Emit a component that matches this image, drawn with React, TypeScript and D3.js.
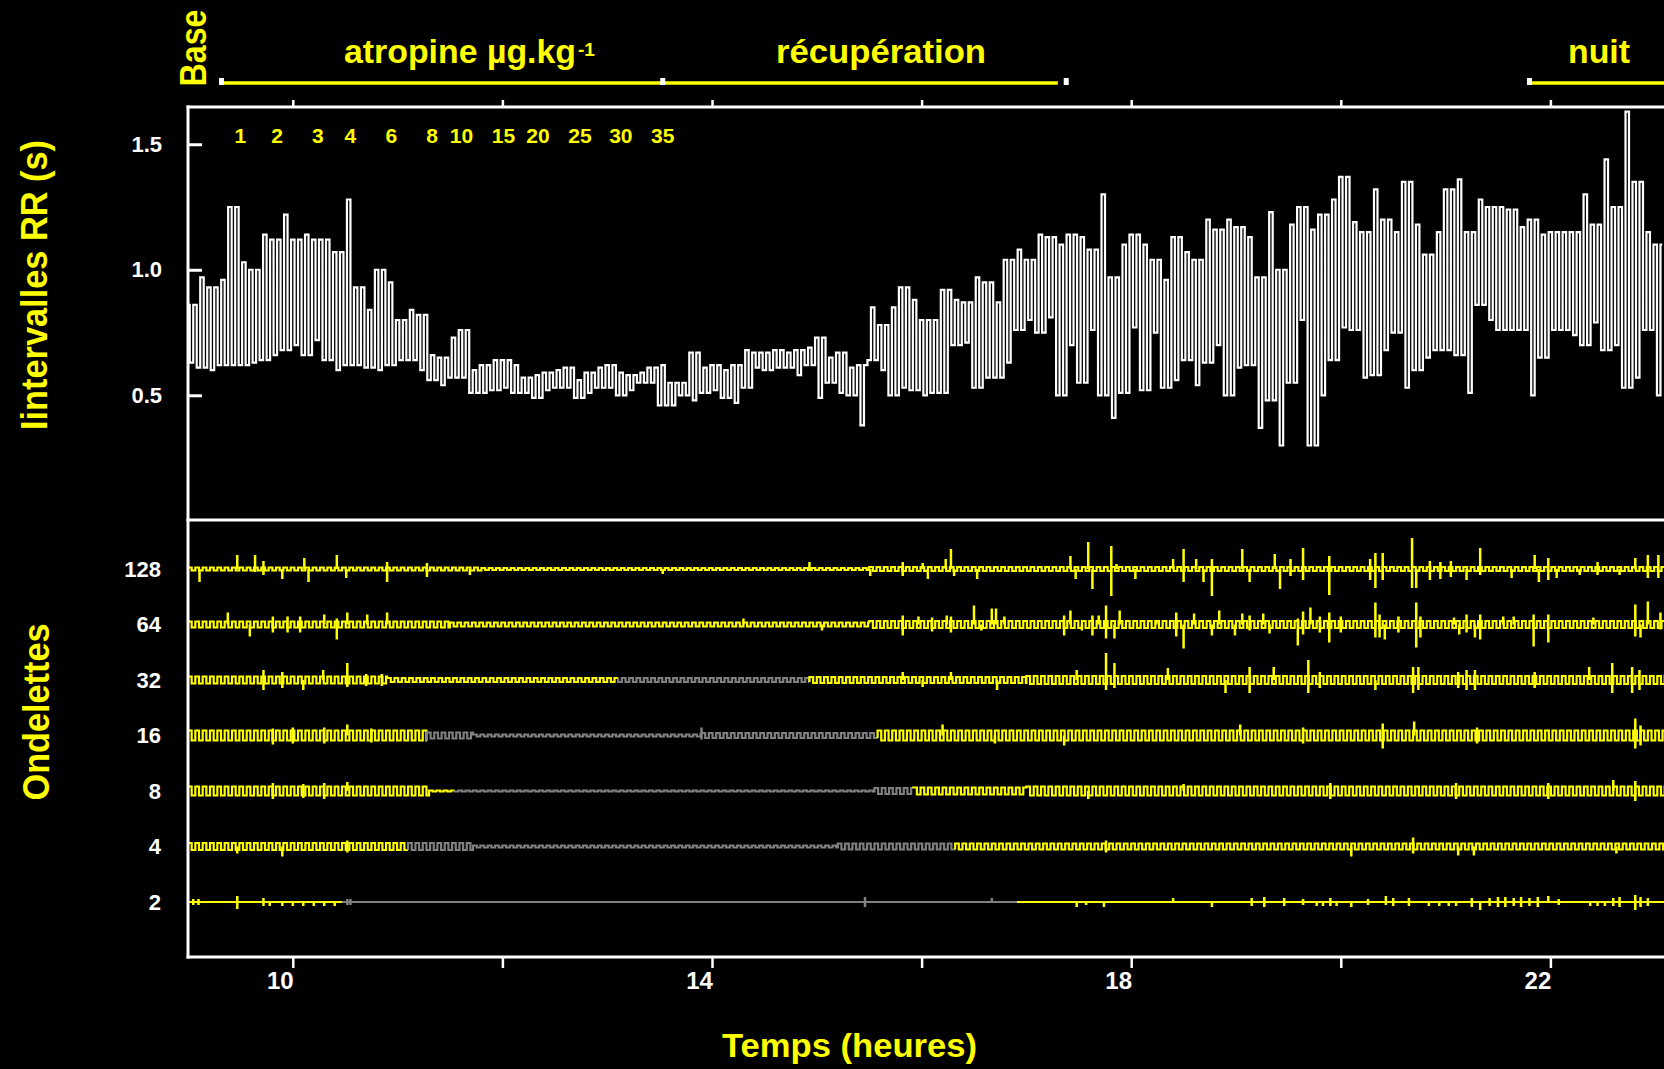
import * as React from "react";
import * as d3 from "d3";

const { useRef, useEffect } = React;

const W = 1664;
const H = 1069;
const YELLOW = "#ffff00";
const GREY = "#808080";
const FONT = "'Liberation Sans', Arial, Helvetica, sans-serif";

// time axis (hours)
const hourTicks = [10, 12, 14, 16, 18, 20, 22, 24];
const hourLabels = [10, 14, 18, 22];

// RR intervals (s): upper / lower envelope for each 0.1 h step from 9.0 h
const rrStart = 9.0;
const rrStep = 0.1;
const rrHigh = [
  0.86, 0.97, 0.93, 0.96, 1.25, 1.03, 1.0, 1.14, 1.12, 1.22,
  1.12, 1.14, 1.12, 1.12, 1.07, 1.28, 0.93, 0.84, 1.0, 0.95,
  0.8, 0.84, 0.82, 0.66, 0.65, 0.73, 0.76, 0.6, 0.62, 0.64,
  0.64, 0.62, 0.57, 0.58, 0.59, 0.6, 0.61, 0.56, 0.59, 0.61,
  0.62, 0.59, 0.58, 0.59, 0.61, 0.62, 0.55, 0.55, 0.67, 0.61,
  0.62, 0.6, 0.62, 0.68, 0.67, 0.67, 0.68, 0.67, 0.68, 0.69,
  0.73, 0.65, 0.67, 0.61, 0.62, 0.85, 0.78, 0.85, 0.93, 0.88,
  0.8, 0.8, 0.92, 0.88, 0.87, 0.97, 0.95, 0.87, 1.04, 1.08,
  1.04, 1.14, 1.13, 1.1, 1.14, 1.13, 1.08, 1.3, 0.97, 1.1,
  1.14, 1.1, 1.04, 0.96, 1.13, 1.07, 1.04, 1.2, 1.16, 1.2,
  1.17, 1.13, 0.97, 1.23, 1.0, 1.18, 1.25, 1.16, 1.22, 1.28,
  1.37, 1.19, 1.15, 1.32, 1.2, 1.15, 1.35, 1.18, 1.06, 1.15,
  1.32, 1.36, 1.15, 1.28, 1.25, 1.25, 1.24, 1.17, 1.2, 1.14,
  1.15, 1.15, 1.15, 1.3, 1.18, 1.44, 1.25, 1.63, 1.35, 1.15,
  1.1,
];
const rrLow = [
  0.63, 0.61, 0.6, 0.62, 0.62, 0.62, 0.63, 0.64, 0.66, 0.68,
  0.7, 0.66, 0.72, 0.64, 0.6, 0.62, 0.62, 0.61, 0.6, 0.62,
  0.64, 0.64, 0.6, 0.56, 0.54, 0.57, 0.57, 0.51, 0.51, 0.52,
  0.53, 0.51, 0.51, 0.49, 0.52, 0.53, 0.53, 0.49, 0.51, 0.53,
  0.53, 0.5, 0.52, 0.55, 0.55, 0.46, 0.46, 0.5, 0.48, 0.51,
  0.52, 0.49, 0.47, 0.53, 0.61, 0.6, 0.61, 0.61, 0.58, 0.62,
  0.49, 0.55, 0.51, 0.5, 0.38, 0.64, 0.6, 0.5, 0.53, 0.52,
  0.5, 0.51, 0.51, 0.7, 0.71, 0.53, 0.57, 0.57, 0.63, 0.76,
  0.8, 0.75, 0.81, 0.5, 0.7, 0.55, 0.76, 0.5, 0.41, 0.51,
  0.77, 0.52, 0.75, 0.53, 0.56, 0.64, 0.54, 0.63, 0.7, 0.5,
  0.61, 0.62, 0.37, 0.48, 0.3, 0.55, 0.8, 0.3, 0.5, 0.64,
  0.77, 0.76, 0.57, 0.58, 0.68, 0.75, 0.53, 0.6, 0.65, 0.68,
  0.68, 0.66, 0.51, 0.86, 0.8, 0.76, 0.76, 0.76, 0.5, 0.65,
  0.76, 0.76, 0.74, 0.7, 0.79, 0.68, 0.7, 0.53, 0.57, 0.76,
  0.5,
];
const rrTicks = [0.5, 1.0, 1.5];

// atropine doses (µg/kg) and the hour each was given
const doseLabels = ["1", "2", "3", "4", "6", "8", "10", "15", "20", "25", "30", "35"];
const doseTimes = [9.5, 9.85, 10.24, 10.55, 10.94, 11.33, 11.61, 12.01, 12.34, 12.74, 13.13, 13.53];

// protocol phases
const phaseNames = ["atropine µg.kg", "récupération", "nuit"];
const phaseFrom = [9.32, 13.53, 21.8];
const phaseTo = [13.53, 17.3, 24.5];
const phaseMarks = [9.32, 13.53, 17.38, 21.8];

// wavelet scales
const waveScales = ["128", "64", "32", "16", "8", "4", "2"];

// background activity [from h, to h, amplitude]
const fuzz128 = [[9.0, 11.8, 0.15], [11.8, 15.5, 0.1], [15.5, 24.5, 0.2]];
const fuzz64 = [[9.0, 11.5, 0.3], [11.5, 15.5, 0.2], [15.5, 24.5, 0.35]];
const fuzz32 = [[9.0, 10.9, 0.35], [10.9, 14.93, 0.2], [14.93, 17.0, 0.3], [17.0, 24.5, 0.4]];
const fuzz16 = [[9.0, 11.28, 0.5], [11.28, 11.72, 0.3], [11.72, 13.9, 0.1], [13.9, 15.58, 0.25], [15.58, 24.5, 0.5]];
const fuzz8 = [[9.0, 11.3, 0.45], [11.3, 15.55, 0.05], [15.55, 15.92, 0.3], [15.92, 17.0, 0.35], [17.0, 24.5, 0.45]];
const fuzz4 = [[9.0, 11.72, 0.35], [11.72, 15.2, 0.1], [15.2, 24.5, 0.3]];
const fuzz2 = [[9.0, 24.5, 0]];

// hours where the coefficient is not significant (grey)
const grey128 = [];
const grey64 = [];
const grey32 = [13.09, 14.93];
const grey16 = [11.28, 15.58];
const grey8 = [11.52, 15.92];
const grey4 = [11.1, 16.32];
const grey2 = [10.45, 16.88];

// large coefficients [hour, up, down]
const spikes128 = [
  [9.11, 0, 1.3], [9.47, 1.4, 0], [9.64, 1.4, 0.3], [9.72, 0.8, 0.6], [9.9, 0, 1.0], [10.11, 1.1, 0],
  [10.15, 0, 1.3], [10.42, 1.4, 0], [10.51, 0, 0.9], [10.9, 0.7, 1.3], [11.28, 0.6, 0.8], [11.69, 0, 0.6],
  [13.53, 0, 0.5], [14.93, 0.7, 0], [15.51, 0, 0.7], [15.82, 0.7, 0.7], [16.01, 0.6, 0], [16.06, 0, 1.0],
  [16.23, 1.0, 0], [16.28, 2.0, 0], [16.31, 0, 0.7], [16.53, 0, 1.0], [17.42, 1.3, 0], [17.47, 0, 1.0],
  [17.59, 2.7, 0], [17.63, 0, 2.0], [17.81, 2.3, 2.7], [17.86, 0.5, 0], [18.04, 0, 1.0], [18.4, 1.0, 0],
  [18.5, 2.0, 1.3], [18.62, 1.0, 0], [18.69, 0, 1.3], [18.77, 1.0, 2.7], [19.06, 2.0, 0], [19.13, 0, 1.3],
  [19.37, 1.5, 0], [19.42, 0, 2.0], [19.52, 1.0, 0.7], [19.64, 2.1, 1.1], [19.89, 1.3, 2.6], [20.28, 1.0, 1.1],
  [20.33, 1.6, 1.9], [20.4, 1.6, 1.1], [20.68, 3.1, 1.9], [20.72, 0, 1.9], [20.85, 0.8, 1.1], [20.95, 0.7, 1.0],
  [21.05, 0.8, 0.8], [21.2, 0, 1.1], [21.33, 2.1, 0.6], [21.63, 0, 0.9], [21.85, 1.4, 0], [21.89, 0, 1.3],
  [21.98, 1.1, 1.1], [22.06, 0, 0.9], [22.28, 0, 0.6], [22.45, 0.7, 0.6], [22.66, 0, 0.6], [22.81, 1.1, 0],
  [22.93, 1.4, 0.9], [23.03, 1.4, 0.9],
];
const spikes64 = [
  [9.38, 1.2, 0], [9.59, 0, 1.2], [9.81, 0.8, 0.8], [9.95, 0.8, 0.8], [10.07, 0.8, 0.8], [10.3, 1.0, 0],
  [10.42, 0.6, 1.5], [10.52, 1.2, 0], [10.71, 1.0, 0], [10.9, 1.2, 0], [14.3, 0.6, 0], [15.05, 0, 0.6],
  [15.82, 0.9, 1.1], [15.97, 0.8, 0], [16.1, 0.7, 0.7], [16.24, 0.9, 0], [16.28, 0.8, 0.8], [16.5, 1.9, 0],
  [16.57, 0, 0.6], [16.67, 1.6, 0], [16.71, 1.6, 0], [16.79, 0.8, 0], [17.36, 0.9, 1.1], [17.42, 1.4, 0],
  [17.53, 0, 0.6], [17.63, 0.9, 1.1], [17.69, 0.9, 0], [17.76, 1.9, 1.4], [17.84, 0, 1.4], [17.89, 1.4, 0],
  [18.24, 0.4, 0], [18.43, 1.2, 1.2], [18.5, 0, 2.4], [18.6, 1.1, 0], [18.77, 0, 1.1], [18.84, 1.4, 0],
  [18.99, 0, 1.1], [19.06, 1.1, 0], [19.13, 0.9, 0.6], [19.26, 1.1, 0], [19.32, 0, 0.9], [19.59, 0.6, 2.1],
  [19.64, 1.3, 1.0], [19.71, 1.7, 0], [19.8, 0.8, 0.8], [19.89, 1.2, 1.8], [20.0, 0.8, 0.8], [20.33, 2.2, 1.3],
  [20.37, 1.0, 1.3], [20.42, 0, 1.5], [20.55, 0.8, 0.8], [20.72, 2.2, 2.3], [20.76, 0.8, 1.3], [21.08, 0.7, 0],
  [21.13, 0, 1.0], [21.2, 1.0, 0.8], [21.28, 0, 1.3], [21.33, 1.0, 1.5], [21.55, 0.8, 0], [21.65, 0.8, 0],
  [21.84, 1.0, 2.2], [21.98, 1.0, 1.8], [22.41, 0.7, 0], [22.81, 2.0, 1.2], [22.86, 0, 1.3], [22.93, 2.3, 0],
  [23.05, 1.2, 0.5],
];
const spikes32 = [
  [9.72, 1.0, 1.0], [9.9, 0.8, 0.8], [10.1, 0, 1.0], [10.29, 1.0, 0], [10.52, 1.7, 0.7], [10.7, 0.6, 0.6],
  [10.85, 0.6, 0.6], [15.82, 0.8, 0], [16.01, 0, 0.7], [16.28, 0.8, 0], [16.72, 0, 1.0], [17.48, 1.0, 0],
  [17.76, 2.7, 1.0], [17.84, 1.7, 0.8], [18.35, 1.2, 0], [18.9, 0, 1.3], [19.13, 1.3, 1.3], [19.36, 1.3, 0],
  [19.69, 2.0, 1.3], [19.8, 0.8, 0.8], [20.33, 0, 1.0], [20.69, 1.3, 1.3], [20.74, 1.3, 1.0], [21.12, 0.8, 0.8],
  [21.2, 1.0, 1.0], [21.28, 1.0, 1.0], [21.85, 0.8, 0.8], [22.37, 1.3, 0], [22.59, 1.7, 1.3], [22.78, 1.3, 1.3],
  [22.85, 1.0, 1.0],
];
const spikes16 = [
  [9.81, 0.7, 0.9], [10.0, 0.8, 0.8], [10.3, 0.8, 0.8], [10.52, 1.1, 0], [10.75, 0.7, 0.7], [13.9, 0.8, 0.4],
  [16.2, 1.1, 0], [16.7, 0, 0.8], [17.36, 0, 1.0], [19.04, 1.1, 0], [19.64, 0.8, 0.8], [20.4, 1.2, 1.3],
  [20.7, 1.4, 0], [21.3, 0.8, 0.8], [22.81, 1.7, 1.3], [22.86, 1.0, 1.0],
];
const spikes8 = [
  [9.81, 0.8, 0.8], [10.1, 0.7, 0.7], [10.3, 0.8, 0.8], [10.52, 0.9, 0], [17.59, 0, 0.8], [18.5, 0.7, 0],
  [19.9, 0.8, 0.8], [21.1, 0.8, 0.8], [21.98, 0.8, 0.8], [22.6, 1.1, 0], [22.81, 1.0, 1.0],
];
const spikes4 = [
  [9.47, 0, 0.7], [9.9, 0, 1.0], [10.52, 0.6, 0.6], [17.76, 0.6, 0.6], [20.1, 0, 1.0], [20.69, 0.9, 0.7],
  [21.12, 0, 0.9], [21.27, 0, 0.9], [22.63, 0, 0.7],
];
const spikes2 = [
  [9.05, 0.3, 0.3], [9.1, 0.3, 0.3], [9.47, 0.6, 0.7], [9.72, 0.4, 0.4], [9.78, 0, 0.4], [9.9, 0, 0.4],
  [10.0, 0, 0.4], [10.1, 0, 0.4], [10.2, 0, 0.4], [10.3, 0, 0.4], [10.4, 0, 0.4], [10.52, 0.3, 0.3],
  [10.55, 0.3, 0.3], [15.46, 0.5, 0.5], [16.67, 0.4, 0], [17.48, 0, 0.5], [17.57, 0, 0.3], [17.74, 0, 0.5],
  [18.4, 0.4, 0], [18.77, 0, 0.5], [19.15, 0.4, 0.4], [19.27, 0.5, 0.5], [19.46, 0.4, 0.4], [19.64, 0.3, 0.3],
  [19.77, 0, 0.4], [19.83, 0, 0.4], [19.9, 0.4, 0.4], [19.96, 0, 0.4], [20.1, 0, 0.5], [20.26, 0.3, 0.3],
  [20.43, 0.6, 0.3], [20.5, 0.4, 0.4], [20.65, 0.4, 0.4], [20.84, 0, 0.4], [20.94, 0, 0.4], [21.03, 0, 0.4],
  [21.1, 0, 0.4], [21.25, 0.4, 0.5], [21.33, 0, 0.8], [21.42, 0.4, 0.4], [21.5, 0.5, 0.5], [21.57, 0.5, 0.5],
  [21.65, 0.4, 0.4], [21.72, 0.5, 0.5], [21.8, 0.4, 0.4], [21.88, 0.5, 0.5], [21.98, 0.6, 0], [22.08, 0.3, 0.3],
  [22.38, 0, 0.4], [22.45, 0, 0.4], [22.52, 0, 0.4], [22.6, 0.4, 0.4], [22.66, 0.5, 0.5], [22.81, 0.7, 0.8],
  [22.86, 0.5, 0.5], [22.93, 0.4, 0.4],
];

const waveRows = [
  { label: "128", fuzz: fuzz128, grey: grey128, spikes: spikes128 },
  { label: "64", fuzz: fuzz64, grey: grey64, spikes: spikes64 },
  { label: "32", fuzz: fuzz32, grey: grey32, spikes: spikes32 },
  { label: "16", fuzz: fuzz16, grey: grey16, spikes: spikes16 },
  { label: "8", fuzz: fuzz8, grey: grey8, spikes: spikes8 },
  { label: "4", fuzz: fuzz4, grey: grey4, spikes: spikes4 },
  { label: "2", fuzz: fuzz2, grey: grey2, spikes: spikes2 },
];

export default function App() {
  const svgRef = useRef(null);

  useEffect(() => {
    const svg = d3.select(svgRef.current);
    svg.selectAll("*").remove();

    const left = 188, top = 107, mid = 520, bottom = 957;
    const x = d3.scaleLinear().domain([9, 24]).range([left, left + 15 * 104.8]);
    const yRR = d3.scaleLinear().domain([0, 1.65]).range([520.8, 106.6]);
    const yRow = d3.scalePoint().domain(waveScales).range([569, 902]);

    svg.append("rect").attr("width", W).attr("height", H).attr("fill", "#000");

    const defs = svg.append("defs");
    defs.append("clipPath").attr("id", "clipRR").append("rect")
      .attr("x", left).attr("y", top).attr("width", W - left).attr("height", mid - top);
    defs.append("clipPath").attr("id", "clipW").append("rect")
      .attr("x", left).attr("y", mid).attr("width", W - left).attr("height", bottom - mid);

    // RR trace: beats swing between the lower and upper envelope of each step
    const rrPts = [];
    let flip = 0;
    rrHigh.forEach((h, i) => {
      const t = rrStart + i * rrStep;
      for (let k = 0; k < 3; k++, flip++) {
        rrPts.push([t + (k * rrStep) / 3, flip % 2 ? rrLow[i] : h]);
      }
    });
    const rrLine = d3.line().x(d => x(d[0])).y(d => yRR(d[1])).curve(d3.curveStep);
    svg.append("path")
      .attr("d", rrLine(rrPts))
      .attr("fill", "none")
      .attr("stroke", "#fff")
      .attr("stroke-width", 2.2)
      .attr("clip-path", "url(#clipRR)");

    // wavelet rows
    const wg = svg.append("g").attr("clip-path", "url(#clipW)");
    const fuzzStep = 0.035;
    waveRows.forEach(row => {
      const base = yRow(row.label);
      const yv = d3.scaleLinear().domain([-3, 3]).range([base + 30, base - 30]);
      const isGrey = t => row.grey.length > 0 && t >= row.grey[0] && t < row.grey[1];

      const pts = [];
      row.fuzz.forEach(([t0, t1, a]) => {
        let k = 0;
        for (let t = t0; t < t1 - 1e-9; t += fuzzStep, k++) pts.push([t, k % 2 ? -a : a]);
      });
      pts.push([24.5, 0]);

      const runs = [];
      let cur = isGrey(pts[0][0]);
      let run = [pts[0]];
      for (let i = 1; i < pts.length; i++) {
        const g = isGrey(pts[i][0]);
        if (g !== cur) {
          const joint = [pts[i][0], pts[i - 1][1]];
          run.push(joint);
          runs.push({ grey: cur, pts: run });
          run = [joint];
          cur = g;
        }
        run.push(pts[i]);
      }
      runs.push({ grey: cur, pts: run });

      const line = d3.line().x(d => x(d[0])).y(d => yv(d[1])).curve(d3.curveStepAfter);
      runs.forEach(r => {
        wg.append("path")
          .attr("d", line(r.pts))
          .attr("fill", "none")
          .attr("stroke", r.grey ? GREY : YELLOW)
          .attr("stroke-width", 2.2);
      });

      wg.selectAll(null)
        .data(row.spikes)
        .enter().append("line")
        .attr("x1", d => x(d[0])).attr("x2", d => x(d[0]))
        .attr("y1", d => yv(d[1])).attr("y2", d => yv(-d[2]))
        .attr("stroke", d => (isGrey(d[0]) ? GREY : YELLOW))
        .attr("stroke-width", 2.5);
    });

    // frame
    const frame = svg.append("g").attr("stroke", "#fff").attr("stroke-width", 3);
    frame.append("line").attr("x1", left).attr("x2", left).attr("y1", top - 1.5).attr("y2", bottom + 1.5);
    frame.append("line").attr("x1", left - 1.5).attr("x2", W).attr("y1", top).attr("y2", top);
    frame.append("line").attr("x1", left - 1.5).attr("x2", W).attr("y1", mid).attr("y2", mid);
    frame.append("line").attr("x1", left - 1.5).attr("x2", W).attr("y1", bottom).attr("y2", bottom);

    // bottom axis
    const gx = svg.append("g")
      .attr("transform", `translate(0,${bottom})`)
      .call(d3.axisBottom(x).tickValues(hourTicks).tickSize(11).tickPadding(4)
        .tickFormat(d => (hourLabels.includes(d) ? String(d) : "")));
    gx.select(".domain").remove();
    gx.selectAll("line").attr("stroke", "#fff").attr("stroke-width", 2.5);
    gx.selectAll("text")
      .attr("fill", "#fff")
      .attr("font-family", FONT)
      .attr("font-size", 24)
      .attr("font-weight", "bold")
      .attr("dx", -13);

    // top axis
    const gt = svg.append("g")
      .attr("transform", `translate(0,${top})`)
      .call(d3.axisTop(x).tickValues(hourTicks).tickSize(7).tickFormat(() => ""));
    gt.select(".domain").remove();
    gt.selectAll("line").attr("stroke", "#fff").attr("stroke-width", 2.5);

    // RR axis
    const gy = svg.append("g")
      .attr("transform", `translate(${left},0)`)
      .call(d3.axisLeft(yRR).tickValues(rrTicks).tickSizeInner(-14).tickSizeOuter(0).tickPadding(26)
        .tickFormat(d3.format(".1f")));
    gy.select(".domain").remove();
    gy.selectAll("line").attr("stroke", "#fff").attr("stroke-width", 3);
    gy.selectAll("text")
      .attr("fill", "#fff")
      .attr("font-family", FONT)
      .attr("font-size", 22)
      .attr("font-weight", "bold");

    // wavelet scale labels
    svg.append("g")
      .selectAll("text")
      .data(waveScales)
      .enter().append("text")
      .attr("x", 161)
      .attr("y", d => yRow(d))
      .attr("dy", "0.36em")
      .attr("text-anchor", "end")
      .attr("fill", "#fff")
      .attr("font-family", FONT)
      .attr("font-size", 22)
      .attr("font-weight", "bold")
      .text(d => d);

    // dose labels
    svg.append("g")
      .selectAll("text")
      .data(doseLabels)
      .enter().append("text")
      .attr("x", (d, i) => x(doseTimes[i]))
      .attr("y", 143)
      .attr("text-anchor", "middle")
      .attr("fill", YELLOW)
      .attr("font-family", FONT)
      .attr("font-size", 21)
      .attr("font-weight", "bold")
      .text(d => d);

    // protocol bar
    const pg = svg.append("g");
    phaseNames.forEach((name, i) => {
      pg.append("line")
        .attr("x1", x(phaseFrom[i])).attr("x2", Math.min(W, x(phaseTo[i])))
        .attr("y1", 83).attr("y2", 83)
        .attr("stroke", YELLOW).attr("stroke-width", 3.5);
    });
    pg.selectAll("rect")
      .data(phaseMarks)
      .enter().append("rect")
      .attr("x", d => x(d) - 2.5).attr("y", 78)
      .attr("width", 5).attr("height", 7)
      .attr("fill", "#fff");

    const label = (txt, px, py, len, size, anchor) =>
      svg.append("text")
        .attr("x", px).attr("y", py)
        .attr("text-anchor", anchor)
        .attr("fill", YELLOW)
        .attr("font-family", FONT)
        .attr("font-size", size)
        .attr("font-weight", "bold")
        .attr("textLength", len)
        .attr("lengthAdjust", "spacingAndGlyphs")
        .text(txt);

    label(phaseNames[0], 344, 63, 232, 33, "start");
    svg.append("text")
      .attr("x", 578).attr("y", 56)
      .attr("fill", YELLOW).attr("font-family", FONT).attr("font-size", 19).attr("font-weight", "bold")
      .text("-1");
    label(phaseNames[1], 776, 63, 210, 33, "start");
    label(phaseNames[2], 1568, 63, 62, 33, "start");
    label("Temps (heures)", 722, 1057, 255, 34, "start");

    const vlabel = (txt, bx, cy, len) =>
      svg.append("text")
        .attr("transform", `translate(${bx},${cy}) rotate(-90)`)
        .attr("text-anchor", "middle")
        .attr("fill", YELLOW)
        .attr("font-family", FONT)
        .attr("font-size", 36)
        .attr("font-weight", "bold")
        .attr("textLength", len)
        .attr("lengthAdjust", "spacingAndGlyphs")
        .text(txt);

    vlabel("Base", 206, 48, 77);
    vlabel("Iintervalles RR (s)", 47, 285, 290);
    vlabel("Ondelettes", 48.5, 712, 177);
  }, []);

  return (
    <svg
      ref={svgRef}
      width={W}
      height={H}
      style={{ position: "absolute", left: 0, top: 0, display: "block", background: "#000" }}
    />
  );
}
